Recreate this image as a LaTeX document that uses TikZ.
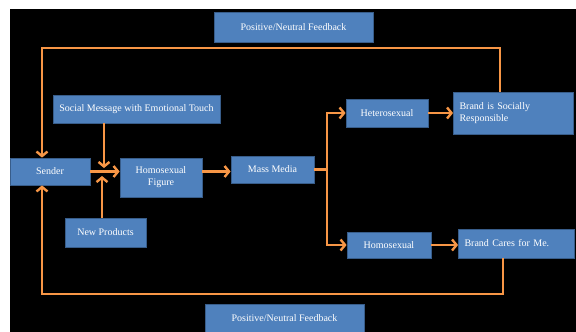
\documentclass[tikz,border=0pt]{standalone}
\usepackage{fontspec}
\setmainfont{Liberation Serif}
\usetikzlibrary{arrows.meta}
\definecolor{boxblue}{RGB}{79,129,189}
\definecolor{boxline}{RGB}{56,93,138}
\definecolor{arrorange}{RGB}{247,150,70}

\begin{document}
\begin{tikzpicture}[x=1pt, y=-1pt,
    box/.style = {draw=boxline, line width=0.8pt, fill=boxblue, text=white, inner sep=2pt, font=\fontsize{10}{12}\selectfont, align=center},
    leftbox/.style = {box, align=left, inner xsep=6pt},
    arr/.style = {draw=arrorange, line width=2.4pt, -{Straight Barb[length=4.5pt, width=11pt]}},
    fb/.style = {draw=arrorange, line width=1.6pt}]

    % 1. Tło
    \useasboundingbox (0,0) rectangle (576,332);
    \fill[black] (10,9) rectangle (576,332);

    % 2. Rozmieszczenie bloków
    \node[box, minimum width=159pt, minimum height=30pt] (fbtop) at (293.5,27) {Positive/Neutral Feedback};
    \node[box, minimum width=167pt, minimum height=28pt] (social) at (136.5,109) {Social Message with Emotional Touch};
    \node[box, minimum width=80pt, minimum height=27pt] (sender) at (50,171.5) {Sender};
    \node[box, minimum width=82pt, minimum height=39pt] (figure) at (161,177.5) {Homosexual\\Figure};
    \node[box, minimum width=81pt, minimum height=29pt] (newprod) at (105.5,232.5) {New Products};
    \node[box, minimum width=83pt, minimum height=27pt] (media) at (272.5,169.5) {Mass Media};
    \node[box, minimum width=82pt, minimum height=28pt] (hetero) at (387,113) {Heterosexual};
    \node[box, minimum width=84pt, minimum height=26pt] (homo) at (389,245) {Homosexual};
    \node[leftbox, text width=108pt, minimum height=42pt] (brandsr) at (513.5,113) {Brand is Socially\\Responsible};
    \node[leftbox, text width=104pt, minimum height=29pt] (brandcm) at (516.5,243.5) {Brand Cares for Me.};
    \node[box, minimum width=159pt, minimum height=28pt] (fbbot) at (284.5,318) {Positive/Neutral Feedback};

    % 3. Punkty pomocnicze
    \coordinate (jt) at (104,168);
    \coordinate (jb) at (102,176);
    \coordinate (split) at (327,169.5);
    \coordinate (tl) at (42,48);
    \coordinate (tr) at (500,48);
    \coordinate (bl) at (42,294);
    \coordinate (br) at (503,294);

    % 4. Pętle sprzężenia zwrotnego
    \draw[fb] (brandsr.north -| tr) -- (tr) -- (tl) -- ([yshift=12pt]tl |- sender.north);
    \draw[arr] ([yshift=16pt]tl |- sender.north) -- (tl |- sender.north);
    \draw[fb] (brandcm.south -| br) -- (br) -- (bl) -- ([yshift=-12pt]bl |- sender.south);
    \draw[arr] ([yshift=-16pt]bl |- sender.south) -- (bl |- sender.south);

    % 5. Przepływ komunikatu
    \draw[arr] (sender.east) -- (sender.east -| figure.west);
    \draw[arr] (social.south -| jt) -- (jt);
    \draw[arr] (newprod.north -| jb) -- (jb);
    \draw[arr] (figure.east |- sender.east) -- (media.west |- sender.east);
    \draw[arr] (media.east) -- (split) |- (hetero.west);
    \draw[arr] (split) |- (homo.west);
    \draw[arr] (hetero.east) -- (hetero.east -| brandsr.west);
    \draw[arr] (homo.east) -- (homo.east -| brandcm.west);
\end{tikzpicture}
\end{document}
